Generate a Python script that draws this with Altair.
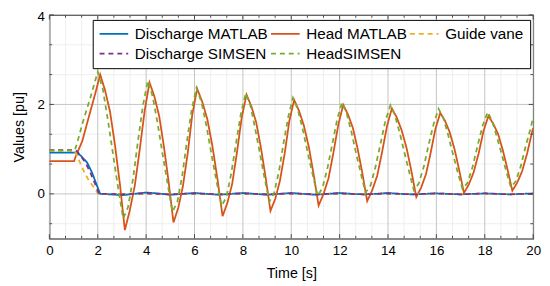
import altair as alt
import pandas as pd

# ---------------- data ----------------
series_names = ["Discharge MATLAB", "Head MATLAB", "Guide vane", "Discharge SIMSEN", "HeadSIMSEN"]
series_colors = ["#0072BD", "#D95319", "#EDB120", "#7E2F8E", "#77AC30"]
series_dash = [[1, 0], [1, 0], [5, 4], [5, 4], [5, 4]]

q_matlab_t = [0, 1.1, 1.29, 1.56, 1.76, 1.97, 2.1, 2.5, 3.0, 3.5, 4.0, 4.5, 5.0, 5.5, 6.0, 6.5, 7.0, 7.5,
              8.0, 8.5, 9.0, 9.5, 10.0, 10.5, 11.0, 11.5, 12.0, 12.5, 13.0, 13.5, 14.0, 14.5, 15.0,
              15.5, 16.0, 16.5, 17.0, 17.5, 18.0, 18.5, 19.0, 19.5, 20.0]
q_matlab_v = [0.92, 0.92, 0.86, 0.70, 0.48, 0.18, 0.0, -0.01, -0.03, 0.0, 0.03, 0.01, -0.02, 0.0, 0.02,
              0.0, -0.02, 0.0, 0.02, 0.0, -0.02, 0.0, 0.02, 0.0, -0.02, 0.0, 0.02, 0.0, -0.01, 0.0,
              0.02, 0.0, -0.01, 0.0, 0.01, 0.0, -0.01, 0.0, 0.01, 0.0, -0.01, 0.0, 0.01]

h_matlab_t = [0, 1.02, 1.1, 1.2, 1.36, 1.63, 1.9, 2.10,
              2.30, 2.51, 2.71, 2.92, 3.12, 3.32, 3.53, 3.73, 3.94, 4.14,
              4.34, 4.54, 4.73, 4.93, 5.13, 5.33, 5.52, 5.72, 5.91, 6.11,
              6.32, 6.53, 6.74, 6.95, 7.16, 7.36, 7.56, 7.75, 7.95, 8.15,
              8.35, 8.55, 8.74, 8.94, 9.14, 9.34, 9.53, 9.73, 9.92, 10.12,
              10.32, 10.52, 10.73, 10.93, 11.13, 11.33, 11.54, 11.74, 11.95, 12.15,
              12.35, 12.55, 12.74, 12.94, 13.14, 13.34, 13.55, 13.75, 13.96, 14.16,
              14.36, 14.56, 14.77, 14.97, 15.17, 15.37, 15.57, 15.76, 15.96, 16.16,
              16.36, 16.55, 16.75, 16.94, 17.14, 17.34, 17.54, 17.75, 17.95, 18.15,
              18.35, 18.55, 18.74, 18.94, 19.14, 19.34, 19.54, 19.75, 19.95, 20.0]
h_matlab_v = [0.73, 0.73, 0.85, 0.98, 1.18, 1.72, 2.25, 2.67,
              2.32, 1.83, 1.10, 0.20, -0.81, -0.38, 0.18, 0.97, 1.86, 2.49,
              2.18, 1.74, 1.08, 0.27, -0.64, -0.31, 0.17, 0.91, 1.78, 2.35,
              2.06, 1.67, 1.07, 0.33, -0.50, -0.20, 0.23, 0.91, 1.70, 2.22,
              1.96, 1.60, 1.05, 0.37, -0.38, -0.11, 0.29, 0.91, 1.63, 2.10,
              1.86, 1.53, 1.04, 0.42, -0.26, -0.01, 0.35, 0.91, 1.56, 1.99,
              1.77, 1.47, 1.02, 0.46, -0.16, 0.07, 0.40, 0.92, 1.52, 1.91,
              1.71, 1.43, 1.02, 0.50, -0.07, 0.14, 0.44, 0.91, 1.45, 1.81,
              1.63, 1.38, 1.00, 0.54, 0.02, 0.21, 0.48, 0.91, 1.41, 1.74,
              1.57, 1.34, 0.99, 0.55, 0.07, 0.25, 0.50, 0.90, 1.37, 1.47]

gv_t = [0, 1.05, 1.15, 1.43, 1.63, 1.90, 2.02, 20.0]
gv_v = [0.97, 0.97, 0.84, 0.50, 0.30, 0.10, 0.0, 0.0]

q_simsen_t = [0, 1.05, 1.15, 1.30, 1.50, 1.70, 1.90, 2.05, 2.5, 3.0, 3.5, 4.0, 4.5, 5.0, 5.5, 6.0, 6.5,
              7.0, 7.5, 8.0, 8.5, 9.0, 9.5, 10.0, 10.5, 11.0, 11.5, 12.0, 12.5, 13.0, 13.5, 14.0,
              14.5, 15.0, 15.5, 16.0, 16.5, 17.0, 17.5, 18.0, 18.5, 19.0, 19.5, 20.0]
q_simsen_v = [0.98, 0.98, 0.95, 0.85, 0.69, 0.47, 0.21, 0.0, 0.0, -0.01, 0.0, 0.01, 0.0, -0.01, 0.0,
              0.01, 0.0, -0.01, 0.0, 0.01, 0.0, -0.01, 0.0, 0.01, 0.0, -0.01, 0.0, 0.01, 0.0, -0.01,
              0.0, 0.01, 0.0, -0.01, 0.0, 0.01, 0.0, -0.01, 0.0, 0.01, 0.0, -0.01, 0.0, 0.0]

h_simsen_t = [0, 1.05, 1.15, 1.36, 1.70, 2.00,
              2.21, 2.42, 2.63, 2.84, 3.05, 3.25, 3.46, 3.66, 3.87, 4.07,
              4.27, 4.48, 4.68, 4.89, 5.09, 5.29, 5.49, 5.68, 5.88, 6.08,
              6.29, 6.50, 6.70, 6.91, 7.12, 7.32, 7.52, 7.72, 7.92, 8.12,
              8.32, 8.51, 8.71, 8.90, 9.10, 9.29, 9.49, 9.68, 9.88, 10.07,
              10.27, 10.48, 10.68, 10.89, 11.09, 11.29, 11.49, 11.70, 11.90, 12.10,
              12.29, 12.49, 12.68, 12.88, 13.07, 13.28, 13.48, 13.69, 13.89, 14.10,
              14.29, 14.49, 14.68, 14.88, 15.07, 15.27, 15.48, 15.68, 15.89, 16.09,
              16.29, 16.49, 16.68, 16.88, 17.08, 17.29, 17.50, 17.70, 17.91, 18.12,
              18.31, 18.50, 18.70, 18.89, 19.08, 19.28, 19.49, 19.69, 19.90, 20.0]
h_simsen_v = [0.97, 0.97, 1.14, 1.56, 2.16, 2.73,
              2.34, 1.65, 0.89, 0.14, -0.55, -0.30, 0.34, 1.17, 1.98, 2.53,
              2.18, 1.56, 0.89, 0.22, -0.40, -0.18, 0.40, 1.15, 1.87, 2.37,
              2.05, 1.50, 0.89, 0.28, -0.27, -0.07, 0.46, 1.14, 1.80, 2.25,
              1.96, 1.45, 0.89, 0.34, -0.17, 0.02, 0.50, 1.13, 1.73, 2.15,
              1.89, 1.43, 0.92, 0.42, -0.04, 0.13, 0.56, 1.12, 1.67, 2.04,
              1.80, 1.38, 0.91, 0.45, 0.03, 0.19, 0.60, 1.12, 1.63, 1.98,
              1.75, 1.35, 0.92, 0.48, 0.08, 0.23, 0.61, 1.10, 1.57, 1.90,
              1.69, 1.31, 0.90, 0.49, 0.11, 0.25, 0.61, 1.07, 1.52, 1.83,
              1.63, 1.28, 0.89, 0.50, 0.15, 0.28, 0.62, 1.06, 1.48, 1.70]

x_major = [0, 2, 4, 6, 8, 10, 12, 14, 16, 18, 20]
y_major = [0, 2, 4]
x_minor = [round(i * 2 / 3, 4) for i in range(31) if i % 3 != 0]
y_minor = [-0.6667, 0.6667, 1.3333, 2.6667, 3.3333]

# ---------------- chart ----------------
FONT = "Liberation Sans"
TFS = 13.5      # tick labels
FS = 14.5       # axis titles
LFS = 15.5      # legend labels
W, H = 491, 227
TICK = "#3a3a3a"

all_t = [q_matlab_t, h_matlab_t, gv_t, q_simsen_t, h_simsen_t]
all_v = [q_matlab_v, h_matlab_v, gv_v, q_simsen_v, h_simsen_v]
rows = []
for name, ts, vs in zip(series_names, all_t, all_v):
    for i, (t, v) in enumerate(zip(ts, vs)):
        rows.append({"series": name, "t": t, "v": v, "i": i})
df = pd.DataFrame(rows)

x_scale = alt.Scale(domain=[0, 20], nice=False, zero=False)
y_scale = alt.Scale(domain=[-1, 4], nice=False, zero=False)

x_axis = alt.Axis(values=x_major, title="Time [s]", grid=False, ticks=False, tickSize=0, domain=False,
                  labelFont=FONT, labelFontSize=TFS, labelColor="black", labelPadding=5, labelFlush=False,
                  titleFont=FONT, titleFontSize=FS, titleFontWeight="normal", titleColor="black",
                  titlePadding=10, format="d")
y_axis = alt.Axis(values=y_major, title="Values [pu]", grid=False, ticks=False, tickSize=0, domain=False,
                  labelFont=FONT, labelFontSize=TFS, labelColor="black", labelPadding=5, labelFlush=False,
                  labelOffset={"condition": {"test": "datum.value == 4", "value": 1.5}, "value": 0},
                  titleFont=FONT, titleFontSize=FS, titleFontWeight="normal", titleColor="black",
                  titlePadding=11, format="d")

legend = alt.Legend(title=None, orient="none", legendX=44, legendY=5, direction="horizontal", columns=3,
                    symbolType="M-2.5,0L2.5,0", symbolSize=135, symbolStrokeWidth=1.8, symbolOffset=7.75,
                    labelOffset=13.5, labelFont=FONT, labelFontSize=LFS, labelColor="black", labelLimit=0,
                    padding=6, rowPadding=3.5, columnPadding=-1, strokeColor="black", fillColor="white",
                    cornerRadius=0)

color = alt.Color("series:N", scale=alt.Scale(domain=series_names, range=series_colors), legend=legend)
dash = alt.StrokeDash("series:N", scale=alt.Scale(domain=series_names, range=series_dash), legend=legend)


def xenc(field):
    return alt.X(field, scale=x_scale, axis=x_axis)


def yenc(field):
    return alt.Y(field, scale=y_scale, axis=y_axis)


def vrules(vals, col, width):
    return alt.Chart(pd.DataFrame({"g": vals})).mark_rule(color=col, strokeWidth=width).encode(
        x=xenc("g:Q"))


def hrules(vals, col, width):
    return alt.Chart(pd.DataFrame({"g": vals})).mark_rule(color=col, strokeWidth=width).encode(
        y=yenc("g:Q"))


def xticks(vals, length):
    base = alt.Chart(pd.DataFrame({"g": vals})).mark_rule(color=TICK, strokeWidth=0.9)
    return [base.encode(x=xenc("g:Q"), y=alt.value(H), y2=alt.value(H - length)),
            base.encode(x=xenc("g:Q"), y=alt.value(0), y2=alt.value(length))]


def yticks(vals, length):
    base = alt.Chart(pd.DataFrame({"g": vals})).mark_rule(color=TICK, strokeWidth=0.9)
    return [base.encode(y=yenc("g:Q"), x=alt.value(0), x2=alt.value(length)),
            base.encode(y=yenc("g:Q"), x=alt.value(W), x2=alt.value(W - length))]


layers = [
    vrules(x_minor, "#ebebeb", 0.8),
    hrules(y_minor, "#ebebeb", 0.8),
    vrules(x_major, "#c4c4c4", 1.0),
    hrules(y_major, "#c4c4c4", 1.0),
]

for name in series_names:
    layers.append(
        alt.Chart(df).transform_filter(alt.datum.series == name).mark_line(strokeWidth=1.8, clip=True).encode(
            x=xenc("t:Q"),
            y=yenc("v:Q"),
            color=color,
            strokeDash=dash,
            order="i:Q",
        )
    )

layers += xticks(x_minor, 2.8) + xticks(x_major, 4.5) + yticks(y_minor, 2.8) + yticks(y_major, 4.5)

chart = alt.layer(*layers).properties(
    width=W, height=H,
    padding={"left": 42, "top": 5, "right": 9, "bottom": 44},
    autosize=alt.AutoSizeParams(type="none"),
).configure_view(stroke="#1a1a1a", strokeWidth=1.1)

chart.save("out.html", embed_options={"renderer": "svg", "actions": False})
